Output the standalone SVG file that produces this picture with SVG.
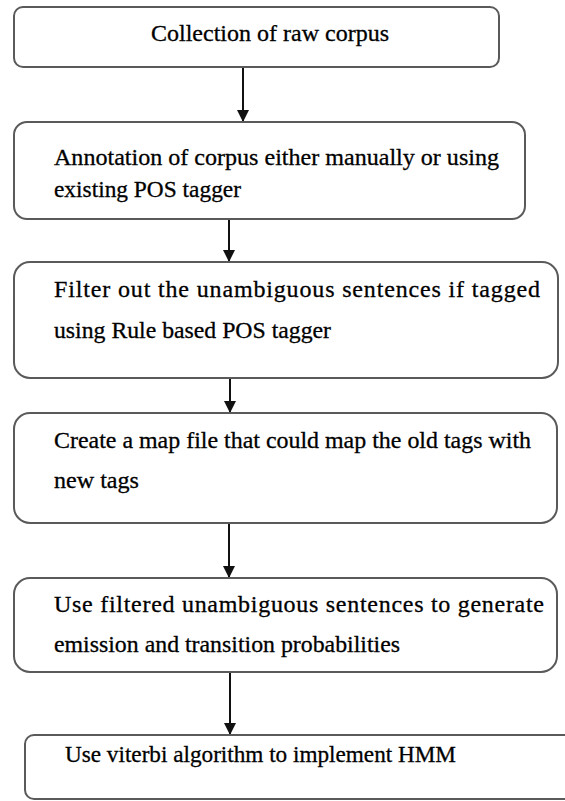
<svg xmlns="http://www.w3.org/2000/svg" width="565" height="801" viewBox="0 0 565 801">
<style>
.box{fill:#fff;stroke:#5a5a5a;stroke-width:2}
.t{font-family:"Liberation Serif","Times New Roman",serif;font-size:24px;fill:#000;stroke:#000;stroke-width:0.3}
.c{stroke:#111;stroke-width:2;fill:none}
</style>
<defs>
<marker id="ah" viewBox="0 0 10 10" refX="10" refY="5" markerWidth="6.5" markerHeight="6" markerUnits="strokeWidth" orient="auto">
<path d="M0,0 L10,5 L0,10 Z" fill="#111"/>
</marker>
</defs>
<rect width="565" height="801" fill="#fff"/>
<g id="connectors">
<line class="c" x1="243" y1="67" x2="243" y2="122" marker-end="url(#ah)"/>
<line class="c" x1="229" y1="219" x2="229" y2="262" marker-end="url(#ah)"/>
<line class="c" x1="230" y1="378" x2="230" y2="413" marker-end="url(#ah)"/>
<line class="c" x1="229" y1="523" x2="229" y2="578" marker-end="url(#ah)"/>
<line class="c" x1="230" y1="672" x2="230" y2="735" marker-end="url(#ah)"/>
</g>
<g id="n1">
<rect class="box" x="14" y="7" width="485" height="60" rx="9"/>
<text class="t" x="151" y="41" textLength="238" lengthAdjust="spacingAndGlyphs">Collection of raw corpus</text>
</g>
<g id="n2">
<rect class="box" x="14" y="122" width="511" height="97" rx="13"/>
<text class="t" x="54" y="165" textLength="445" lengthAdjust="spacingAndGlyphs">Annotation of corpus either manually or using</text>
<text class="t" x="54" y="197" textLength="187" lengthAdjust="spacingAndGlyphs">existing POS tagger</text>
</g>
<g id="n3">
<rect class="box" x="14" y="262" width="544" height="116" rx="16"/>
<text class="t" x="54" y="297" textLength="486" lengthAdjust="spacing">Filter  out the unambiguous sentences if tagged</text>
<text class="t" x="54" y="338" textLength="277" lengthAdjust="spacingAndGlyphs">using Rule based POS tagger</text>
</g>
<g id="n4">
<rect class="box" x="14" y="413" width="543" height="110" rx="16"/>
<text class="t" x="54" y="448" textLength="477" lengthAdjust="spacingAndGlyphs">Create a map file that could map the old tags with</text>
<text class="t" x="54" y="488" textLength="85" lengthAdjust="spacingAndGlyphs">new tags</text>
</g>
<g id="n5">
<rect class="box" x="14" y="578" width="543" height="94" rx="16"/>
<text class="t" x="54" y="612" textLength="490" lengthAdjust="spacing">Use filtered unambiguous sentences to generate</text>
<text class="t" x="54" y="652" textLength="346" lengthAdjust="spacingAndGlyphs">emission and transition probabilities</text>
</g>
<g id="n6">
<rect class="box" x="25" y="735" width="560" height="64" rx="9"/>
<text class="t" x="65" y="762" textLength="391" lengthAdjust="spacingAndGlyphs">Use viterbi algorithm to implement HMM</text>
</g>
</svg>
